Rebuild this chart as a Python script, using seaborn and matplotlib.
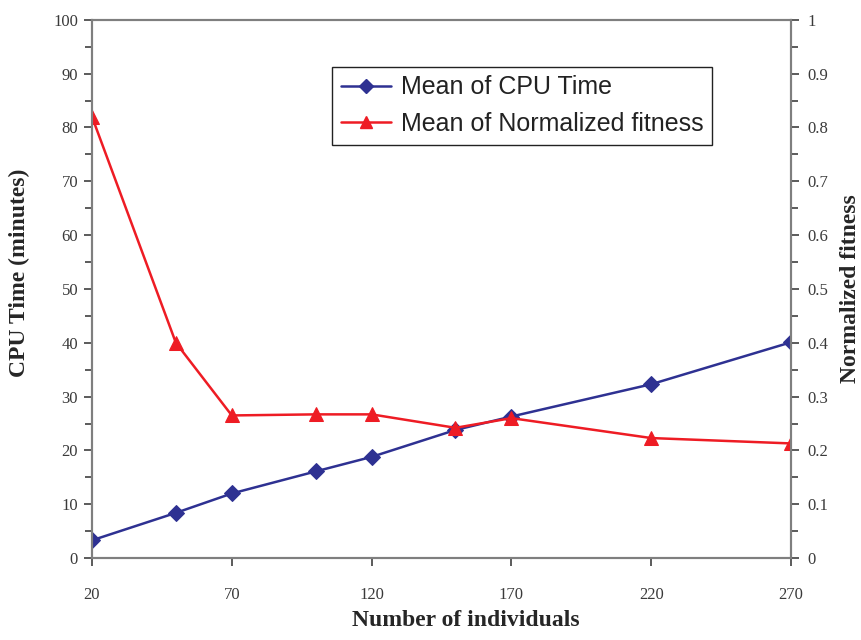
import matplotlib
matplotlib.use("Agg")
import matplotlib.pyplot as plt
from matplotlib.ticker import MultipleLocator
from matplotlib.lines import Line2D
import seaborn as sns
import pandas as pd

individuals = [20, 50, 70, 100, 120, 150, 170, 220, 270]
cpu_time = [3.3, 8.4, 12.0, 16.1, 18.8, 23.8, 26.3, 32.3, 40.1]
norm_fitness = [0.82, 0.40, 0.265, 0.267, 0.267, 0.242, 0.26, 0.223, 0.213]
x_ticks = [20, 70, 120, 170, 220, 270]

sns.set_theme(style="white")
plt.rcParams["font.family"] = ["Liberation Serif", "DejaVu Sans"]

df = pd.DataFrame({"n": individuals, "cpu": cpu_time, "fit": norm_fitness})

blue = "#2E3192"
red = "#EE1C24"
spine_c = "#7F7F7F"

fig = plt.figure(figsize=(8.62, 6.4), dpi=100)
ax = fig.add_axes([0.1067, 0.128, 0.811, 0.841])
ax2 = ax.twinx()

sns.lineplot(data=df, x="n", y="cpu", ax=ax, color=blue, marker="D",
             markersize=8, linewidth=1.8, markeredgecolor=blue)
sns.lineplot(data=df, x="n", y="fit", ax=ax2, color=red, marker="^",
             markersize=10, linewidth=1.8, markeredgecolor=red)

ax.set_xlim(20, 270)
ax.set_ylim(0, 100)
ax2.set_ylim(0, 1)
ax.set_xticks(x_ticks)
ax.yaxis.set_major_locator(MultipleLocator(10))
ax.yaxis.set_minor_locator(MultipleLocator(5))
ax2.yaxis.set_minor_locator(MultipleLocator(0.05))
ax2.set_yticks([0, 0.1, 0.2, 0.3, 0.4, 0.5, 0.6, 0.7, 0.8, 0.9, 1.0])
ax2.set_yticklabels(["0", "0.1", "0.2", "0.3", "0.4", "0.5", "0.6", "0.7",
                     "0.8", "0.9", "1"])

for a in (ax, ax2):
    for s in a.spines.values():
        s.set_color(spine_c)
        s.set_linewidth(1.5)
    a.tick_params(which="both", direction="out", color="#404040", width=1.2,
                  labelsize=12, labelcolor="#3a3a3a")
    a.tick_params(which="major", length=6)
    a.tick_params(which="minor", length=5)

ax.tick_params(axis="x", which="major", length=6, pad=15, bottom=True)
ax.tick_params(axis="y", which="both", left=True, pad=4)
ax2.tick_params(axis="y", which="both", right=True, pad=6)

ax.set_xlabel("Number of individuals", fontsize=17, fontweight="bold")
ax.xaxis.set_label_coords(0.535, -0.097)
ax.set_ylabel("CPU Time (minutes)", fontsize=17, fontweight="bold")
ax.yaxis.set_label_coords(-0.088, 0.53)
ax2.set_ylabel("Normalized fitness", fontsize=17, fontweight="bold",
               rotation=90)
ax2.yaxis.set_label_coords(1.07, 0.50)

handles = [
    Line2D([], [], color=blue, marker="D", markersize=7, linewidth=1.8),
    Line2D([], [], color=red, marker="^", markersize=9, linewidth=1.8),
]
leg = ax2.legend(handles, ["Mean of CPU Time", "Mean of Normalized fitness"],
                 loc="upper left", bbox_to_anchor=(0.343, 0.913),
                 borderaxespad=0,
                 frameon=True, fancybox=False, framealpha=1,
                 edgecolor="#222222", handlelength=2.0, handletextpad=0.4,
                 borderpad=0.35, labelspacing=0.5,
                 prop={"family": "Liberation Sans", "size": 18})
leg.get_frame().set_linewidth(1.0)
for t in leg.get_texts():
    t.set_color("#222222")

fig.savefig("out.png", dpi=100)
